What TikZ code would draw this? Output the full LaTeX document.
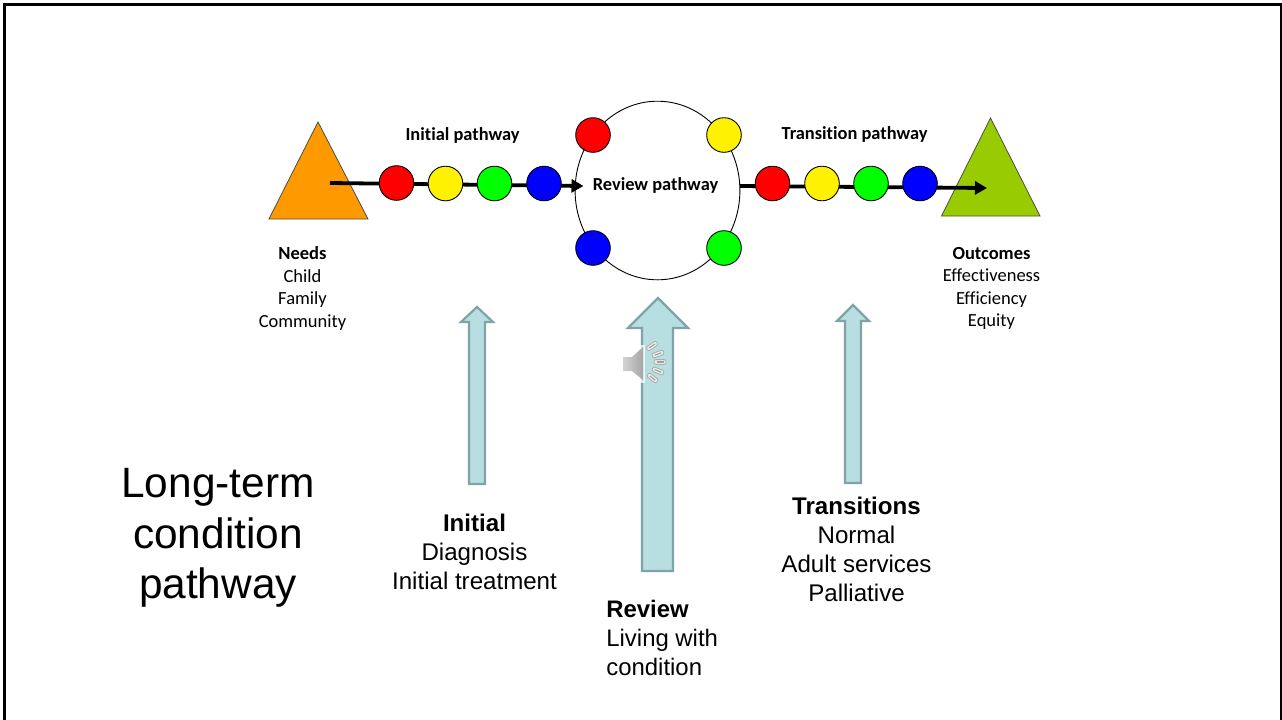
\documentclass[tikz,border=0pt]{standalone}
\usepackage{fontspec}
\usetikzlibrary{arrows.meta,shapes.geometric}
\setmainfont[Ligatures=NoCommon]{Carlito}
\newfontfamily\arialf{Liberation Sans}
\definecolor{orangetri}{HTML}{FF9900}
\definecolor{greentri}{HTML}{99CC00}
\definecolor{arrowfill}{HTML}{B7DEE1}
\definecolor{arrowline}{HTML}{7FA3A6}
\tikzset{
  x=0.5pt,y=-0.5pt,
  dot/.style={circle,draw=black,line width=0.45pt,minimum size=17.3pt,inner sep=0pt},
  tri/.style={draw=black!70,line width=0.4pt},
  upar/.style={fill=arrowfill,draw=arrowline,line width=1.1pt,line join=miter},
  flow/.style={line width=1.9pt,-{Triangle[length=6pt,width=6.5pt]}},
  small/.style={font=\fontsize{9.25pt}{11.2pt}\selectfont,align=center,inner sep=0pt,text=black},
  smallb/.style={small,font=\fontsize{9.2pt}{11.2pt}\selectfont\bfseries},
  big/.style={font=\arialf\fontsize{12.05pt}{14.5pt}\selectfont,align=center,inner sep=0pt},
  bigl/.style={font=\arialf\fontsize{11.95pt}{14.5pt}\selectfont,align=left,inner sep=0pt},
  title/.style={font=\arialf\fontsize{21.2pt}{25.2pt}\selectfont,align=center,inner sep=0pt},
  ping/.style={fill=white!80!arrowline,draw=gray!65,line width=0.4pt,rounded corners=1pt}
}
\begin{document}
\begin{tikzpicture}
\useasboundingbox (0,0) rectangle (1282,719);
\fill[white] (0,0) rectangle (1282,719);
% slide frame
\draw[black,line width=1.6pt] (4.5,722) -- (4.5,4.5) -- (1281.5,4.5) -- (1281.5,722);
% triangles
\draw[tri,fill=orangetri] (318,122) -- (368,219) -- (269,219) -- cycle;
\draw[tri,fill=greentri] (990.5,118) -- (1040,216) -- (941.5,216) -- cycle;
% review loop
\node[ellipse,draw=black,line width=0.45pt,minimum width=82.4pt,minimum height=89.3pt,inner sep=0pt] (loop) at (657.5,190.5) {};
% flow lines
\coordinate (s1) at (330,183);
\coordinate (e1) at (583.5,186);
\coordinate (s2) at (740,186);
\coordinate (e2) at (987,188);
\draw[flow] (s1) -- (e1);
\draw[flow] (s2) -- (e2);
% dots
\node[dot,fill=red] (a1) at (396.5,183) {};
\node[dot,fill=yellow] (a2) at (445.5,183.5) {};
\node[dot,fill=green] (a3) at (494.5,183.5) {};
\node[dot,fill=blue] (a4) at (544,183.5) {};
\node[dot,fill=red] (r1) at (593,135) {};
\node[dot,fill=yellow] (r2) at (724,135) {};
\node[dot,fill=blue] (r3) at (593,248) {};
\node[dot,fill=green] (r4) at (724,248) {};
\node[dot,fill=red] (b1) at (772.5,183.5) {};
\node[dot,fill=yellow] (b2) at (822,183.5) {};
\node[dot,fill=green] (b3) at (871,183.5) {};
\node[dot,fill=blue] (b4) at (920,183.5) {};
% labels
\node[smallb] (l1) at (462.5,135.5) {Initial pathway};
\node[smallb] (l2) at (655.5,185) {Review pathway};
\node[smallb] (l3) at (854.5,134.5) {Transition pathway};
\node[small,anchor=north] (needs) at (302.5,246.5) {\textbf{Needs}\\Child\\Family\\Community};
\node[small,anchor=north] (outc) at (991.5,247) {\textbf{Outcomes}\\Effectiveness\\Efficiency\\Equity};
% up arrows
\draw[upar] (477,307) -- (493,322) -- (485,322) -- (485,484) -- (469,484) -- (469,322) -- (461,322) -- cycle;
\draw[upar] (658,298) -- (688,328) -- (673,328) -- (673,571) -- (642,571) -- (642,328) -- (628,328) -- cycle;
\draw[upar] (853,305) -- (869,321) -- (861,321) -- (861,483) -- (845,483) -- (845,321) -- (837,321) -- cycle;
% speaker icon
\fill[white,opacity=0.75] (620,345) rectangle (645,383);
\shade[left color=gray!35,right color=gray!70] (623,357) -- (632,357) -- (643,347) -- (643,380) -- (632,371) -- (623,371) -- cycle;
\foreach \px/\py/\pr in {652/346/-55,658/354/-70,660/362/-90,658/371/-112,652.5/378/-128}{
  \draw[ping,rotate around={\pr:(\px,\py)}] (\px-2.4,\py-6) rectangle (\px+2.4,\py+6);
  \draw[gray!75,line width=0.55pt,rotate around={\pr:(\px,\py)}] (\px,\py-3.5) -- (\px,\py+3.5);
}
% big labels
\node[title] (ttl) at (218,538) {Long-term\\condition\\pathway};
\node[big,anchor=north] (t1) at (474.5,513.5) {\textbf{Initial}\\Diagnosis\\Initial treatment};
\node[bigl,anchor=north west] (t2) at (606,600) {\textbf{Review}\\Living with\\condition};
\node[big,anchor=north] (t3) at (856.5,497) {\textbf{Transitions}\\Normal\\Adult services\\Palliative};
\end{tikzpicture}
\end{document}
